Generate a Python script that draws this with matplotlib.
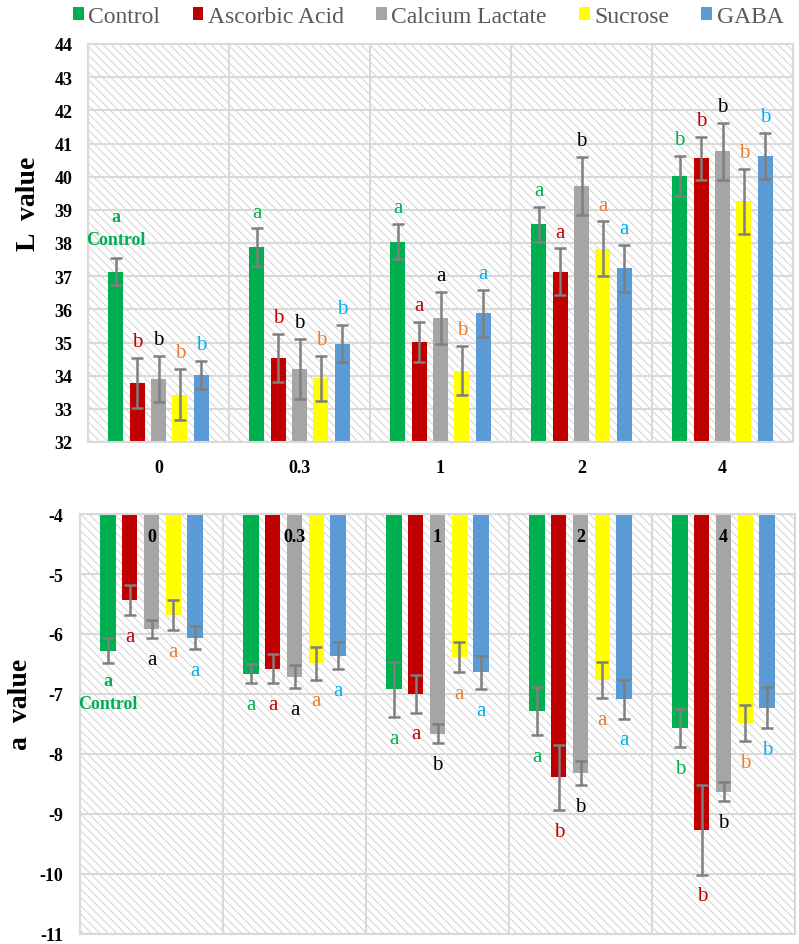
import numpy as np
import matplotlib
matplotlib.use("Agg")
import matplotlib.pyplot as plt
from matplotlib.patches import Rectangle, Patch

plt.rcParams['font.family'] = ['Liberation Serif', 'DejaVu Serif']
plt.rcParams['hatch.linewidth'] = 0.8

doses = ["0", "0.3", "1", "2", "4"]
treatments = ["Control", "Ascorbic Acid", "Calcium Lactate", "Sucrose", "GABA"]
bar_colors = ["#00B050", "#C00000", "#A5A5A5", "#FFFF00", "#5B9BD5"]
letter_colors = ["#00B050", "#C00000", "#000000", "#ED7D31", "#00B0F0"]

# L value, one list per treatment (doses 0, 0.3, 1, 2, 4)
L_control = [37.13, 37.87, 38.04, 38.57, 40.03]
L_ascorbic = [33.78, 34.53, 35.02, 37.13, 40.56]
L_calcium = [33.90, 34.20, 35.74, 39.72, 40.76]
L_sucrose = [33.43, 33.92, 34.15, 37.83, 39.26]
L_gaba = [34.02, 34.96, 35.88, 37.24, 40.63]

L_control_sd = [0.41, 0.57, 0.53, 0.53, 0.60]
L_ascorbic_sd = [0.75, 0.73, 0.60, 0.71, 0.65]
L_calcium_sd = [0.70, 0.90, 0.78, 0.87, 0.85]
L_sucrose_sd = [0.78, 0.67, 0.74, 0.82, 0.98]
L_gaba_sd = [0.43, 0.56, 0.70, 0.71, 0.70]

L_control_sig = ["a", "a", "a", "a", "b"]
L_ascorbic_sig = ["b", "b", "a", "a", "b"]
L_calcium_sig = ["b", "b", "a", "b", "b"]
L_sucrose_sig = ["b", "b", "b", "a", "b"]
L_gaba_sig = ["b", "b", "a", "a", "b"]

# a value
a_control = [-6.28, -6.66, -6.92, -7.29, -7.57]
a_ascorbic = [-5.43, -6.58, -7.00, -8.39, -9.26]
a_calcium = [-5.92, -6.71, -7.66, -8.32, -8.63]
a_sucrose = [-5.69, -6.49, -6.38, -6.77, -7.48]
a_gaba = [-6.06, -6.36, -6.64, -7.09, -7.23]

a_control_sd = [0.21, 0.16, 0.46, 0.40, 0.32]
a_ascorbic_sd = [0.25, 0.24, 0.31, 0.54, 0.75]
a_calcium_sd = [0.15, 0.19, 0.16, 0.20, 0.16]
a_sucrose_sd = [0.25, 0.27, 0.25, 0.30, 0.30]
a_gaba_sd = [0.19, 0.22, 0.28, 0.32, 0.34]

a_control_sig = ["a", "a", "a", "a", "b"]
a_ascorbic_sig = ["a", "a", "a", "b", "b"]
a_calcium_sig = ["a", "a", "b", "b", "b"]
a_sucrose_sig = ["a", "a", "a", "a", "b"]
a_gaba_sig = ["a", "a", "a", "a", "b"]

L_means = [L_control, L_ascorbic, L_calcium, L_sucrose, L_gaba]
L_sds = [L_control_sd, L_ascorbic_sd, L_calcium_sd, L_sucrose_sd, L_gaba_sd]
L_sigs = [L_control_sig, L_ascorbic_sig, L_calcium_sig, L_sucrose_sig, L_gaba_sig]
a_means = [a_control, a_ascorbic, a_calcium, a_sucrose, a_gaba]
a_sds = [a_control_sd, a_ascorbic_sd, a_calcium_sd, a_sucrose_sd, a_gaba_sd]
a_sigs = [a_control_sig, a_ascorbic_sig, a_calcium_sig, a_sucrose_sig, a_gaba_sig]

GRID = "#D9D9D9"
ERR = "#7F7F7F"
STEP = 0.152
WIDTH = 0.106


def style_axes(ax, ylo, yhi):
    ax.set_xlim(-0.5, len(doses) - 0.5)
    ax.set_ylim(ylo, yhi)
    ax.set_yticks(np.arange(ylo, yhi + 1, 1))
    ax.set_yticklabels([str(v) for v in range(ylo, yhi + 1)],
                       fontsize=13, fontweight="bold")
    ax.set_xticks(np.arange(len(doses)))
    ax.set_xticks(np.arange(-0.5, len(doses), 1), minor=True)
    ax.tick_params(axis="both", which="both", length=0)
    ax.set_axisbelow(True)
    ax.grid(which="major", axis="y", color=GRID, lw=1.5)
    ax.grid(which="minor", axis="x", color=GRID, lw=1.5)
    for sp in ax.spines.values():
        sp.set_color(GRID)
        sp.set_linewidth(1.5)
    # hatched plot background
    ax.add_patch(Rectangle((0, 0), 1, 1, transform=ax.transAxes,
                           facecolor="white", edgecolor="#D8D8D8",
                           hatch="\\\\\\\\", lw=0, zorder=0))


def draw_bars(ax, means, sds, sigs, base, upward):
    x = np.arange(len(doses))
    for i in range(len(treatments)):
        m = np.array(means[i])
        xs = x + (i - 2) * STEP
        ax.bar(xs, m - base, bottom=base, width=WIDTH, color=bar_colors[i],
               zorder=2, label=treatments[i])
        ax.errorbar(xs, m, yerr=sds[i], fmt="none", ecolor=ERR, elinewidth=1.8,
                    capsize=4.5, capthick=1.8, zorder=3)
        for j in range(len(doses)):
            if upward:
                yv = m[j] + sds[i][j]
                va, off = "baseline", 8.5
            else:
                yv = m[j] - sds[i][j]
                va, off = "top", -8.5
            if i == 0 and j == 0:
                ax.annotate("a\nControl", (xs[j], yv),
                            xytext=(0, off + 2 if upward else off + 2),
                            textcoords="offset points", ha="center", va=va,
                            fontsize=13, fontweight="bold",
                            color=letter_colors[0], linespacing=1.4, zorder=4)
            else:
                ax.annotate(sigs[i][j], (xs[j], yv), xytext=(0, off),
                            textcoords="offset points", ha="center", va=va,
                            fontsize=15, color=letter_colors[i], zorder=4)


fig = plt.figure(figsize=(7.99, 9.45), dpi=100)

ax1 = fig.add_axes([88 / 799, 1 - 443 / 945, 705 / 799, 398 / 945])
style_axes(ax1, 32, 44)
draw_bars(ax1, L_means, L_sds, L_sigs, 32, True)
ax1.set_xticklabels(doses, fontsize=13, fontweight="bold")
ax1.tick_params(axis="x", pad=12)
ax1.tick_params(axis="y", pad=11)
ax1.set_ylabel("L  value", fontsize=20, fontweight="bold")
ax1.yaxis.set_label_coords(-0.067, 0.60)

ax2 = fig.add_axes([80 / 799, 10 / 945, 715 / 799, 420 / 945])
style_axes(ax2, -11, -4)
draw_bars(ax2, a_means, a_sds, a_sigs, -4, False)
ax2.set_xticklabels([])
# dose labels sit just under the -4 axis line, over the bars
for j, d in enumerate(doses):
    ax2.annotate(d, (j, -4), xytext=(0, -16), textcoords="offset points",
                 ha="center", va="center", fontsize=13, fontweight="bold",
                 zorder=5)
ax2.tick_params(axis="y", pad=12)
ax2.set_ylabel("a  value", fontsize=20, fontweight="bold")
ax2.yaxis.set_label_coords(-0.066, 0.55)

handles = [Patch(facecolor=c, edgecolor="none") for c in bar_colors]
leg = fig.legend(handles, treatments, loc="upper center", ncol=5,
                 bbox_to_anchor=(0.536, 1.01), frameon=False, fontsize=17,
                 handlelength=0.45, handleheight=0.45, handletextpad=0.2,
                 columnspacing=1.36, borderpad=0.2)
for t in leg.get_texts():
    t.set_color("#595959")

fig.savefig("out.png", dpi=100)
